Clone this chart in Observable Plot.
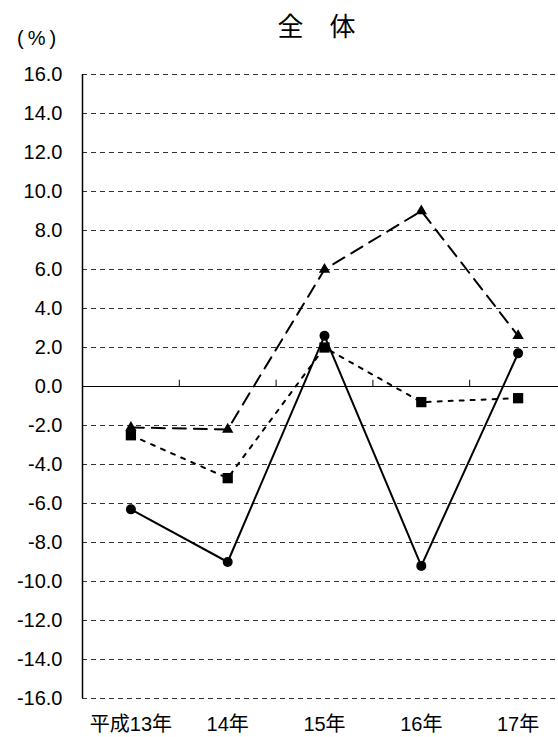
<!DOCTYPE html>
<html>
<head>
<meta charset="utf-8">
<script src="https://cdn.jsdelivr.net/npm/d3@7"></script>
<script src="https://cdn.jsdelivr.net/npm/@observablehq/plot@0.6"></script>
<style>
  body { margin: 0; background: #fff; }
  #wrap { position: relative; width: 558px; height: 737px; overflow: hidden;
          font-family: "Liberation Sans", "Noto Sans CJK JP", sans-serif; color: #000; }
  #title { position: absolute; left: 0; width: 633px; top: 6px; text-align: center;
           font-size: 26px; font-family: "Noto Sans CJK JP", sans-serif; }
  #unit { position: absolute; left: 17px; top: 27px; font-size: 20px; letter-spacing: 4px; }
  #chart { position: absolute; left: 0; top: 0; }
  #chart svg text { font-size: 20px; }
</style>
</head>
<body>
<div id="wrap">
  <div id="chart"></div>
  <div id="title">全　体</div>
  <div id="unit">(%)</div>
</div>
<script>
const categories = ["平成13年", "14年", "15年", "16年", "17年"];
const seriesCircle = [-6.3, -9.0, 2.6, -9.2, 1.7];     // solid line, circles
const seriesSquare = [-2.5, -4.7, 2.0, -0.8, -0.6];    // dotted line, squares
const seriesTriangle = [-2.1, -2.2, 6.0, 9.0, 2.6];    // dashed line, triangles
const yTicks = [-16, -14, -12, -10, -8, -6, -4, -2, 0, 2, 4, 6, 8, 10, 12, 14, 16];

const rows = (vals) => categories.map((c, i) => ({ i, cat: c, v: vals[i] }));
const circleData = rows(seriesCircle);
const squareData = rows(seriesSquare);
const triData = rows(seriesTriangle);
const idx = categories.map((_, i) => i);
const boundaries = categories.slice(1).map((_, i) => i + 0.5);

const chart = Plot.plot({
  width: 558,
  height: 737,
  marginTop: 74,
  marginBottom: 39,
  marginLeft: 82,
  marginRight: 0,
  style: { fontSize: "20px", fontFamily: "'Liberation Sans', 'Noto Sans CJK JP', sans-serif", color: "#000", background: "#fff" },
  x: { type: "linear", domain: [-0.5, categories.length - 0.5], range: [82, 566],
       ticks: idx, tickFormat: (i) => categories[i], tickSize: 0, tickPadding: 18, label: null },
  y: { domain: [-16, 16], ticks: yTicks, tickFormat: (d) => d.toFixed(1), tickSize: 0, tickPadding: 20, label: null },
  marks: [
    Plot.ruleY(yTicks.filter((d) => d !== 0), { stroke: "#333", strokeWidth: 1, strokeDasharray: "5,4" }),
    Plot.ruleY([0], { stroke: "#000", strokeWidth: 1 }),
    Plot.ruleX([-0.5], { y1: -16, y2: 16, stroke: "#000", strokeWidth: 1.5 }),
    Plot.ruleX(boundaries, { y1: 0, y2: 0.32, stroke: "#000", strokeWidth: 1 }),
    Plot.line(triData, { x: "i", y: "v", stroke: "#000", strokeWidth: 2, strokeDasharray: "13,8" }),
    Plot.line(squareData, { x: "i", y: "v", stroke: "#000", strokeWidth: 2, strokeDasharray: "4,7" }),
    Plot.line(circleData, { x: "i", y: "v", stroke: "#000", strokeWidth: 2 }),
    Plot.dot(triData, { x: "i", y: "v", symbol: "triangle", r: 4.2, fill: "#000", stroke: "none" }),
    Plot.dot(squareData, { x: "i", y: "v", symbol: "square", r: 5.8, fill: "#000", stroke: "none" }),
    Plot.dot(circleData, { x: "i", y: "v", symbol: "circle", r: 5, fill: "#000", stroke: "none" })
  ]
});
document.getElementById("chart").appendChild(chart);
</script>
</body>
</html>
